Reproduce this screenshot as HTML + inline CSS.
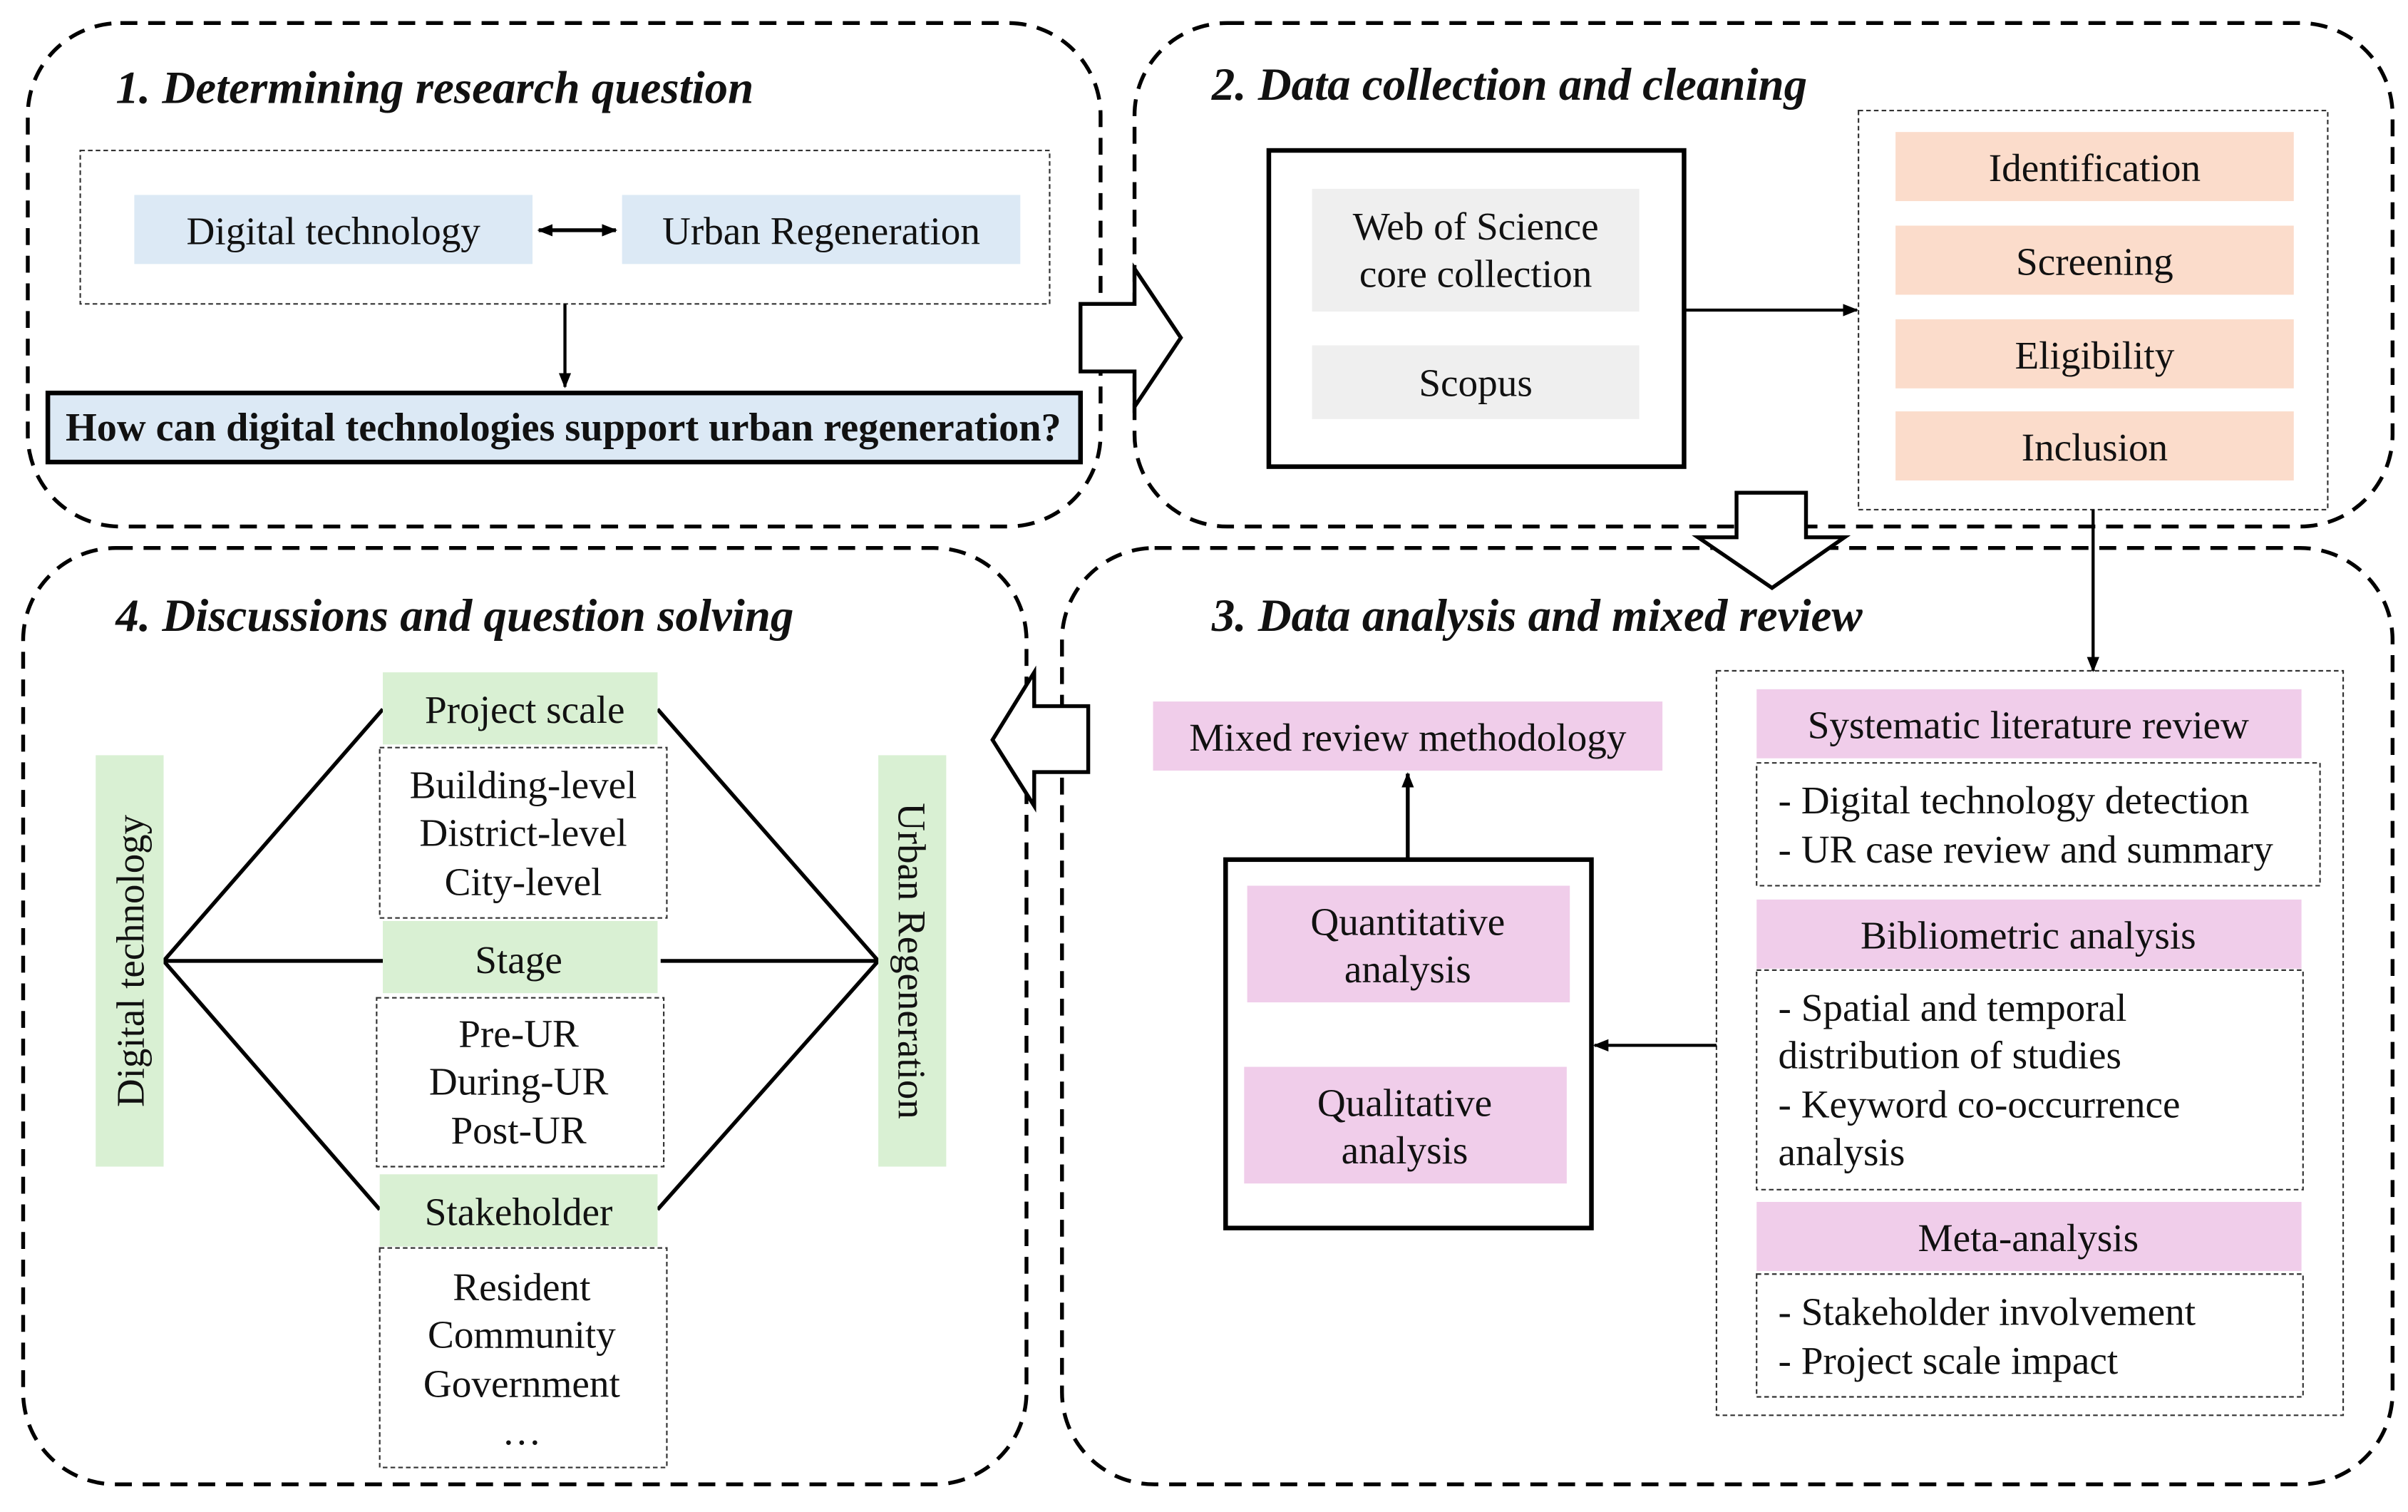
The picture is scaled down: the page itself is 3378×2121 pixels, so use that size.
<!DOCTYPE html>
<html><head><meta charset="utf-8">
<style>
html,body{margin:0;padding:0;background:#fff;}
svg{display:block;}
text{font-family:"Liberation Serif",serif;fill:#111;}
.t{font-size:25.5px;text-anchor:middle;}
.tl{font-size:25.5px;}
.h{font-size:30px;font-style:italic;font-weight:bold;}
</style></head>
<body>
<svg width="3378" height="2121" viewBox="0 0 1560 985" preserveAspectRatio="none" xmlns="http://www.w3.org/2000/svg">
<defs>
<marker id="a" markerWidth="10" markerHeight="10" refX="9" refY="5" orient="auto" markerUnits="userSpaceOnUse"><path d="M0,1 L10,5 L0,9 z" fill="#000"/></marker>
<marker id="as" markerWidth="10" markerHeight="10" refX="1" refY="5" orient="auto" markerUnits="userSpaceOnUse"><path d="M10,1 L0,5 L10,9 z" fill="#000"/></marker>
</defs>
<g fill="none" stroke="#000" stroke-width="2.5" stroke-dasharray="11 7">
<rect x="18" y="15" width="695" height="328" rx="60"/>
<rect x="735" y="15" width="815" height="328" rx="60"/>
<rect x="15" y="357" width="650" height="610" rx="60"/>
<rect x="688" y="357" width="862" height="610" rx="60"/>
</g>
<!-- Panel 1 -->
<text class="h" x="75" y="67">1. Determining research question</text>
<rect x="52" y="98" width="628" height="100" fill="none" stroke="#333" stroke-width="1" stroke-dasharray="3 2"/>
<rect x="87" y="127" width="258" height="45" fill="#dce9f5"/>
<text class="t" x="216" y="159">Digital  technology</text>
<rect x="403" y="127" width="258" height="45" fill="#dce9f5"/>
<text class="t" x="532" y="159">Urban Regeneration</text>
<line x1="349" y1="150" x2="399" y2="150" stroke="#000" stroke-width="2.5" marker-end="url(#a)" marker-start="url(#as)"/>
<line x1="366" y1="198" x2="366" y2="252" stroke="#000" stroke-width="2" marker-end="url(#a)"/>
<rect x="31" y="256" width="669" height="45" fill="#dce9f5" stroke="#000" stroke-width="3"/>
<text class="t" x="365" y="287" style="font-weight:bold;font-size:26px" textLength="645" lengthAdjust="spacingAndGlyphs">How can digital technologies support urban regeneration?</text>
<polygon points="700,198 735,198 735,175 765,220 735,265 735,242 700,242" fill="#fff" stroke="#000" stroke-width="2.5"/>
<!-- Panel 2 -->
<text class="h" x="785" y="65">2. Data collection and cleaning</text>
<rect x="822" y="98" width="269" height="206" fill="none" stroke="#000" stroke-width="3"/>
<rect x="850" y="123" width="212" height="80" fill="#efefef"/>
<text class="t" x="956" y="156">Web of Science</text>
<text class="t" x="956" y="187">core collection</text>
<rect x="850" y="225" width="212" height="48" fill="#efefef"/>
<text class="t" x="956" y="258">Scopus</text>
<line x1="1091" y1="202" x2="1203" y2="202" stroke="#000" stroke-width="2" marker-end="url(#a)"/>
<rect x="1204" y="72" width="304" height="260" fill="none" stroke="#333" stroke-width="1" stroke-dasharray="3 2"/>
<rect x="1228" y="86" width="258" height="45" fill="#fbdccb"/><text class="t" x="1357" y="118">Identification</text>
<rect x="1228" y="147" width="258" height="45" fill="#fbdccb"/><text class="t" x="1357" y="179">Screening</text>
<rect x="1228" y="208" width="258" height="45" fill="#fbdccb"/><text class="t" x="1357" y="240">Eligibility</text>
<rect x="1228" y="268" width="258" height="45" fill="#fbdccb"/><text class="t" x="1357" y="300">Inclusion</text>
<polygon points="1125,321 1170,321 1170,350 1195,350 1148,383 1100,350 1125,350" fill="#fff" stroke="#000" stroke-width="2.5"/>
<line x1="1356" y1="332" x2="1356" y2="437" stroke="#000" stroke-width="2" marker-end="url(#a)"/>
<!-- Panel 3 -->
<text class="h" x="785" y="411">3. Data analysis and mixed review</text>
<rect x="1112" y="437" width="406" height="485" fill="none" stroke="#333" stroke-width="1" stroke-dasharray="3 2"/>
<rect x="1138" y="449" width="353" height="45" fill="#f0cdea"/><text class="t" x="1314" y="481">Systematic literature  review</text>
<rect x="1138" y="497" width="365" height="80" fill="none" stroke="#333" stroke-width="1" stroke-dasharray="3 2"/>
<text class="tl" x="1152" y="530">- Digital  technology detection</text>
<text class="tl" x="1152" y="562">- UR case review and summary</text>
<rect x="1138" y="586" width="353" height="45" fill="#f0cdea"/><text class="t" x="1314" y="618">Bibliometric  analysis</text>
<rect x="1138" y="632" width="354" height="143" fill="none" stroke="#333" stroke-width="1" stroke-dasharray="3 2"/>
<text class="tl" x="1152" y="665">- Spatial and temporal</text>
<text class="tl" x="1152" y="696">distribution of studies</text>
<text class="tl" x="1152" y="728">- Keyword co-occurrence</text>
<text class="tl" x="1152" y="759">analysis</text>
<rect x="1138" y="783" width="353" height="45" fill="#f0cdea"/><text class="t" x="1314" y="815">Meta-analysis</text>
<rect x="1138" y="830" width="354" height="80" fill="none" stroke="#333" stroke-width="1" stroke-dasharray="3 2"/>
<text class="tl" x="1152" y="863">- Stakeholder involvement</text>
<text class="tl" x="1152" y="895">- Project scale impact</text>
<rect x="747" y="457" width="330" height="45" fill="#f0cdea"/><text class="t" x="912" y="489">Mixed review methodology</text>
<line x1="912" y1="560" x2="912" y2="504" stroke="#000" stroke-width="2.5" marker-end="url(#a)"/>
<rect x="794" y="560" width="237" height="240" fill="none" stroke="#000" stroke-width="3"/>
<rect x="808" y="577" width="209" height="76" fill="#f0cdea"/>
<text class="t" x="912" y="609">Quantitative</text><text class="t" x="912" y="640">analysis</text>
<rect x="806" y="695" width="209" height="76" fill="#f0cdea"/>
<text class="t" x="910" y="727">Qualitative</text><text class="t" x="910" y="758">analysis</text>
<line x1="1112" y1="681" x2="1033" y2="681" stroke="#000" stroke-width="2" marker-end="url(#a)"/>
<polygon points="705,460 705,503 670,503 670,525 643,482 670,438 670,460" fill="#fff" stroke="#000" stroke-width="2.5"/>
<!-- Panel 4 -->
<text class="h" x="75" y="411">4. Discussions and question solving</text>
<g stroke="#000" stroke-width="2.5">
<line x1="106" y1="626" x2="248" y2="462"/>
<line x1="106" y1="626" x2="248" y2="626"/>
<line x1="106" y1="626" x2="246" y2="788"/>
<line x1="569" y1="626" x2="426" y2="462"/>
<line x1="569" y1="626" x2="428" y2="626"/>
<line x1="569" y1="626" x2="426" y2="788"/>
</g>
<rect x="62" y="492" width="44" height="268" fill="#d9f0d3"/>
<text class="t" transform="translate(93,626) rotate(-90)">Digital technology</text>
<rect x="569" y="492" width="44" height="268" fill="#d9f0d3"/>
<text class="t" transform="translate(582,626) rotate(90)">Urban Regeneration</text>
<rect x="248" y="438" width="178" height="47" fill="#d9f0d3"/><text class="t" x="340" y="471">Project scale</text>
<rect x="246" y="487" width="186" height="111" fill="none" stroke="#333" stroke-width="1" stroke-dasharray="3 2"/>
<text class="t" x="339" y="520">Building-level</text>
<text class="t" x="339" y="551">District-level</text>
<text class="t" x="339" y="583">City-level</text>
<rect x="248" y="600" width="178" height="47" fill="#d9f0d3"/><text class="t" x="336" y="634">Stage</text>
<rect x="244" y="650" width="186" height="110" fill="none" stroke="#333" stroke-width="1" stroke-dasharray="3 2"/>
<text class="t" x="336" y="682">Pre-UR</text>
<text class="t" x="336" y="713">During-UR</text>
<text class="t" x="336" y="745">Post-UR</text>
<rect x="246" y="765" width="180" height="47" fill="#d9f0d3"/><text class="t" x="336" y="798">Stakeholder</text>
<rect x="246" y="813" width="186" height="143" fill="none" stroke="#333" stroke-width="1" stroke-dasharray="3 2"/>
<text class="t" x="338" y="847">Resident</text>
<text class="t" x="338" y="878">Community</text>
<text class="t" x="338" y="910">Government</text>
<text class="t" x="338" y="941">…</text>
</svg>
</body></html>
